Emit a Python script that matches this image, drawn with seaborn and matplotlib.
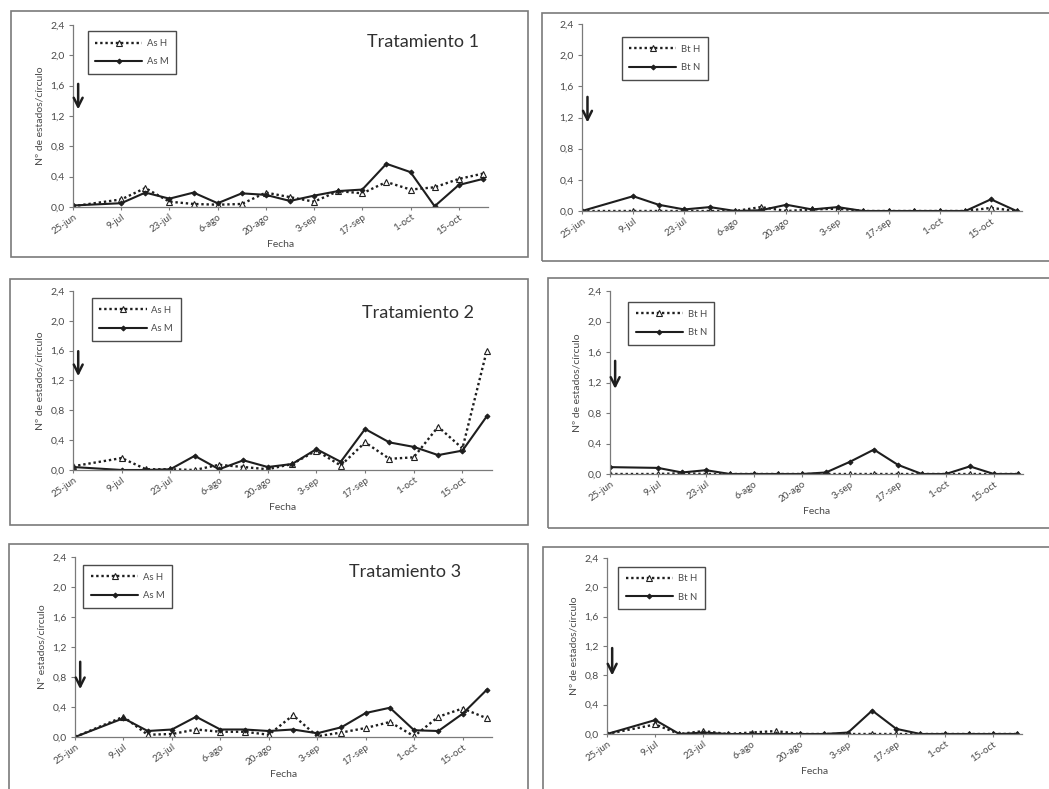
import numpy as np
import pandas as pd
import matplotlib
matplotlib.use("Agg")
import matplotlib.pyplot as plt
from matplotlib.patches import Rectangle
import seaborn as sns

sns.set_style("white")
plt.rcParams['font.family'] = ['Lato', 'DejaVu Sans']

# ---------------- data ----------------
fechas = ["2010-06-25", "2010-07-09", "2010-07-16", "2010-07-23", "2010-07-30",
          "2010-08-06", "2010-08-13", "2010-08-20", "2010-08-27", "2010-09-03",
          "2010-09-10", "2010-09-17", "2010-09-24", "2010-10-01", "2010-10-08",
          "2010-10-15", "2010-10-22"]
tick_fechas = ["2010-06-25", "2010-07-09", "2010-07-23", "2010-08-06", "2010-08-20",
               "2010-09-03", "2010-09-17", "2010-10-01", "2010-10-15"]
tick_labels = ["25-jun", "9-jul", "23-jul", "6-ago", "20-ago", "3-sep", "17-sep", "1-oct", "15-oct"]
y_ticks = [0.0, 0.4, 0.8, 1.2, 1.6, 2.0, 2.4]
y_ticklabels = ["0,0", "0,4", "0,8", "1,2", "1,6", "2,0", "2,4"]

# Tratamiento 1
t1_as_h = [0.01, 0.10, 0.25, 0.07, 0.04, 0.03, 0.04, 0.19, 0.13, 0.07, 0.21, 0.18, 0.33, 0.23, 0.26, 0.37, 0.44]
t1_as_m = [0.02, 0.05, 0.19, 0.11, 0.19, 0.05, 0.18, 0.16, 0.08, 0.15, 0.21, 0.23, 0.57, 0.46, 0.01, 0.29, 0.37]
t1_bt_h = [0.00, 0.00, 0.00, 0.00, 0.00, 0.00, 0.05, 0.00, 0.02, 0.03, 0.00, 0.00, 0.00, 0.00, 0.00, 0.04, 0.00]
t1_bt_n = [0.00, 0.19, 0.08, 0.02, 0.05, 0.00, 0.01, 0.08, 0.02, 0.05, 0.00, 0.00, 0.00, 0.00, 0.00, 0.15, 0.00]
# Tratamiento 2
t2_as_h = [0.05, 0.16, 0.01, 0.01, 0.00, 0.07, 0.04, 0.01, 0.08, 0.26, 0.06, 0.37, 0.15, 0.17, 0.58, 0.29, 1.60]
t2_as_m = [0.04, 0.00, 0.00, 0.01, 0.19, 0.01, 0.13, 0.04, 0.08, 0.28, 0.11, 0.55, 0.37, 0.31, 0.20, 0.26, 0.72]
t2_bt_h = [0.00, 0.00, 0.01, 0.00, 0.00, 0.00, 0.00, 0.00, 0.00, 0.00, 0.00, 0.00, 0.00, 0.00, 0.00, 0.00, 0.00]
t2_bt_n = [0.09, 0.08, 0.02, 0.05, 0.00, 0.00, 0.00, 0.00, 0.02, 0.16, 0.32, 0.12, 0.00, 0.00, 0.10, 0.00, 0.00]
# Tratamiento 3
t3_as_h = [0.00, 0.27, 0.03, 0.04, 0.10, 0.07, 0.07, 0.03, 0.29, 0.01, 0.06, 0.12, 0.20, 0.01, 0.27, 0.38, 0.25]
t3_as_m = [0.00, 0.25, 0.08, 0.10, 0.27, 0.10, 0.10, 0.08, 0.10, 0.05, 0.13, 0.32, 0.39, 0.09, 0.08, 0.31, 0.63]
t3_bt_h = [0.00, 0.13, 0.00, 0.04, 0.00, 0.02, 0.04, 0.00, 0.00, 0.00, 0.00, 0.00, 0.00, 0.00, 0.00, 0.00, 0.00]
t3_bt_n = [0.00, 0.19, 0.00, 0.02, 0.00, 0.00, 0.00, 0.00, 0.00, 0.02, 0.32, 0.07, 0.00, 0.00, 0.00, 0.00, 0.00]

dates = pd.to_datetime(fechas)
tdates = pd.to_datetime(tick_fechas)

ink = "#1e1e1e"
txt = "#4a4a4a"
frame = "#7a7a7a"

fig = plt.figure(figsize=(10.49, 7.89), dpi=100)
W, H = 1049.0, 789.0

def px_rect(x0, y0, x1, y1):
    return [x0 / W, 1 - y1 / H, (x1 - x0) / W, (y1 - y0) / H]

# chart-area boxes (pixels: left, top, right, bottom)
boxes = [(11, 11, 528, 257), (542, 13, 1060, 261),
         (10, 279, 528, 525), (548, 278, 1060, 528),
         (9, 544, 528, 800), (543, 547, 1060, 800)]
for (x0, y0, x1, y1) in boxes:
    fig.add_artist(Rectangle((x0 / W, 1 - y1 / H), (x1 - x0) / W, (y1 - y0) / H,
                             transform=fig.transFigure, fill=False,
                             edgecolor=frame, linewidth=1.2))

panels = [
    dict(ax=(73, 25, 488, 207), h=t1_as_h, m=t1_as_m, names=("As H", "As M"), title="Tratamiento 1",
         title_xy=(423, 42), ylabel="Nº de estados/círculo", xlabel="Fecha", leg=(0.035, 0.965), arrow=(1.66, 1.25)),
    dict(ax=(582, 24, 1022, 211), h=t1_bt_h, m=t1_bt_n, names=("Bt H", "Bt N"), title=None,
         title_xy=None, ylabel=None, xlabel=None, leg=(0.09, 0.93), arrow=(1.50, 1.10)),
    dict(ax=(73, 291, 492, 470), h=t2_as_h, m=t2_as_m, names=("As H", "As M"), title="Tratamiento 2",
         title_xy=(418, 313), ylabel="Nº de estados/círculo", xlabel="Fecha", leg=(0.045, 0.96), arrow=(1.63, 1.22)),
    dict(ax=(610, 291, 1023, 474), h=t2_bt_h, m=t2_bt_n, names=("Bt H", "Bt N"), title=None,
         title_xy=None, ylabel="Nº de estados/círculo", xlabel="Fecha", leg=(0.044, 0.94), arrow=(1.52, 1.08)),
    dict(ax=(75, 557, 492, 737), h=t3_as_h, m=t3_as_m, names=("As H", "As M"), title="Tratamiento 3",
         title_xy=(405, 572), ylabel="Nº estados/círculo", xlabel="Fecha", leg=(0.02, 0.955), arrow=(1.04, 0.60)),
    dict(ax=(607, 558, 1022, 734), h=t3_bt_h, m=t3_bt_n, names=("Bt H", "Bt N"), title=None,
         title_xy=None, ylabel="Nº de estados/círculo", xlabel="Fecha", leg=(0.027, 0.95), arrow=(1.21, 0.76)),
]

for p in panels:
    ax = fig.add_axes(px_rect(*p["ax"]))
    ax.set_facecolor("none")
    df_h = pd.DataFrame({"fecha": dates, "valor": p["h"]})
    df_m = pd.DataFrame({"fecha": dates, "valor": p["m"]})
    sns.lineplot(data=df_h, x="fecha", y="valor", ax=ax, color=ink, linestyle=(0, (1.0, 1.2)),
                 linewidth=1.7, marker="^", markersize=4.5, markerfacecolor="white",
                 markeredgecolor=ink, markeredgewidth=0.8, label=p["names"][0])
    sns.lineplot(data=df_m, x="fecha", y="valor", ax=ax, color=ink, linestyle="-",
                 linewidth=1.5, marker="D", markersize=2.5, markerfacecolor=ink,
                 markeredgecolor=ink, label=p["names"][1])
    ax.set_ylim(0, 2.4)
    ax.set_xlim(dates[0], dates[-1] + pd.Timedelta(days=1.5))
    ax.set_yticks(y_ticks)
    ax.set_yticklabels(y_ticklabels, fontsize=7.5, color=txt)
    ax.set_xticks(tdates)
    ax.set_xticklabels(tick_labels, fontsize=7, color=txt, rotation=35, ha="right",
                       rotation_mode="anchor")
    for s in ["top", "right"]:
        ax.spines[s].set_visible(False)
    for s in ["left", "bottom"]:
        ax.spines[s].set_color(frame)
        ax.spines[s].set_linewidth(0.9)
    ax.tick_params(axis="y", direction="out", length=3, width=0.8, color=frame, pad=3, left=True)
    ax.tick_params(axis="x", direction="out", length=2, width=0.8, color=frame, pad=2, bottom=True)
    ax.set_ylabel(p["ylabel"] or "", fontsize=7.5, color=txt, labelpad=4)
    ax.set_xlabel(p["xlabel"] or "", fontsize=7.5, color=txt, labelpad=2)
    ax.annotate("", xy=(dates[0] + pd.Timedelta(days=1.5), p["arrow"][1]),
                xytext=(dates[0] + pd.Timedelta(days=1.5), p["arrow"][0]),
                arrowprops=dict(arrowstyle="->", color=ink, lw=1.8, mutation_scale=16))
    leg = ax.legend(loc="upper left", bbox_to_anchor=p["leg"], fontsize=6.8, frameon=True,
                    fancybox=False, edgecolor=ink, handlelength=5.0, borderpad=0.8,
                    labelspacing=1.0, handletextpad=0.5, borderaxespad=0)
    leg.get_frame().set_linewidth(1.0)
    for t in leg.get_texts():
        t.set_color(txt)
    if p["title"]:
        fig.text(p["title_xy"][0] / W, 1 - p["title_xy"][1] / H, p["title"], fontsize=13,
                 color="#303030", ha="center", va="center")

fig.savefig("out.png", dpi=100)
